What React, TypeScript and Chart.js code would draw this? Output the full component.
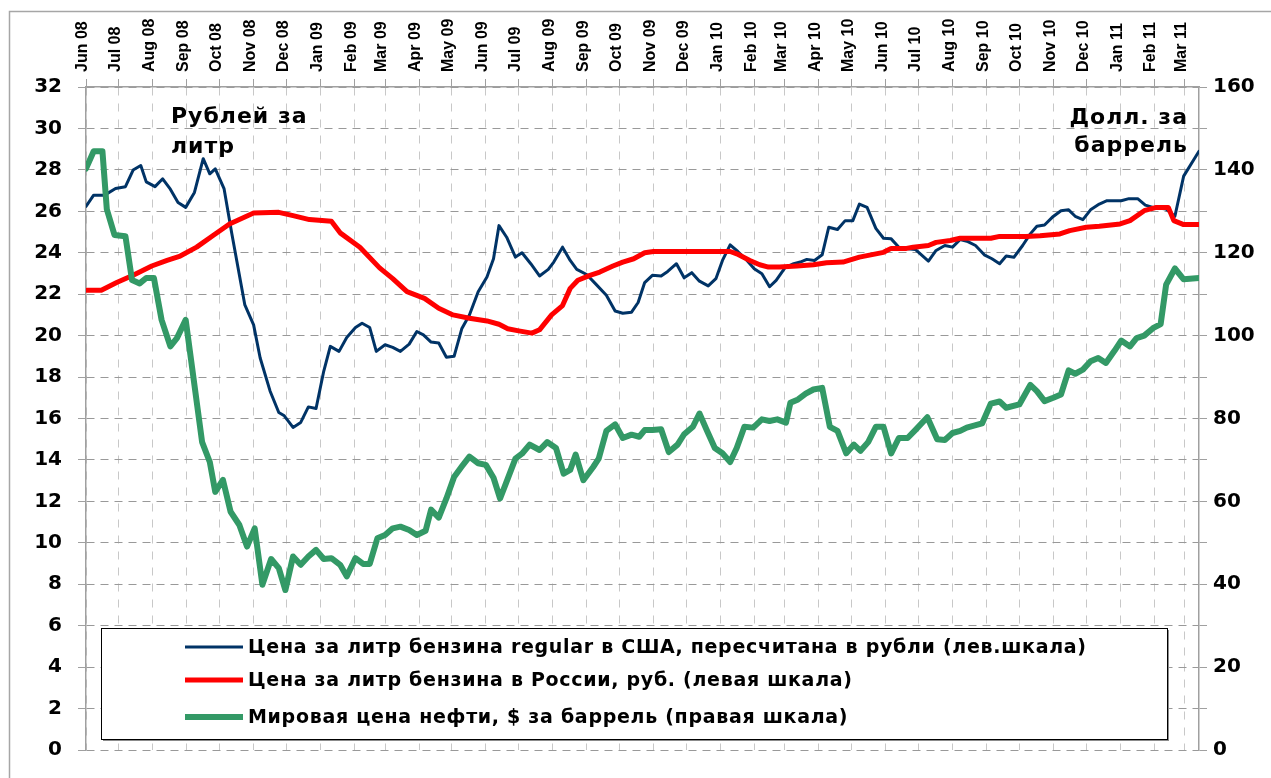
import React, { useEffect, useRef } from 'react';
import { Chart, registerables } from 'chart.js';

Chart.register(...registerables);

// Month tick labels (top axis)
const MONTH_LABELS = [
  'Jun 08', 'Jul 08', 'Aug 08', 'Sep 08', 'Oct 08', 'Nov 08', 'Dec 08',
  'Jan 09', 'Feb 09', 'Mar 09', 'Apr 09', 'May 09', 'Jun 09', 'Jul 09', 'Aug 09', 'Sep 09', 'Oct 09', 'Nov 09', 'Dec 09',
  'Jan 10', 'Feb 10', 'Mar 10', 'Apr 10', 'May 10', 'Jun 10', 'Jul 10', 'Aug 10', 'Sep 10', 'Oct 10', 'Nov 10', 'Dec 10',
  'Jan 11', 'Feb 11', 'Mar 11',
];

// Last date shown on the axis, in days since 1 Jun 2008
const LAST_DAY = 1016;

// US regular gasoline price per litre, converted to roubles (left axis)
const US_DAYS = [
  0, 7, 17, 27, 36, 43, 50, 55, 63, 70, 77, 84, 91, 99, 107, 113, 118, 126, 133, 145, 153, 159, 168, 176, 181, 189,
  196, 203, 210, 217, 223, 231, 238, 246, 252, 259, 265, 273, 280, 287, 295, 302, 308, 315, 322, 329, 336, 343, 350,
  358, 366, 372, 377, 384, 392, 398, 406, 414, 422, 427, 435, 442, 448, 457, 465, 475, 483, 490, 498, 504, 510, 517,
  525, 531, 539, 546, 553, 560, 568, 575, 581, 588, 595, 602, 610, 617, 624, 630, 638, 646, 652, 658, 665, 672, 678,
  686, 693, 700, 706, 713, 721, 728, 735, 742, 750, 757, 769, 776, 784, 791, 798, 805, 812, 820, 827, 834, 840, 847,
  855, 862, 868, 875, 882, 890, 897, 903, 910, 917, 925, 932, 945, 952, 960, 967, 974, 986, 994, 1002, 1016,
];
const US_PRICE = [
  26.24, 26.78, 26.78, 27.1, 27.19, 27.99, 28.21, 27.42, 27.19, 27.57, 27.07, 26.43, 26.19, 26.91, 28.54, 27.81, 28.05,
  27.1, 24.95, 21.48, 20.52, 18.92, 17.33, 16.29, 16.13, 15.57, 15.81, 16.56, 16.48, 18.28, 19.48, 19.24, 19.91, 20.39,
  20.6, 20.39, 19.24, 19.56, 19.43, 19.24, 19.59, 20.2, 20.04, 19.69, 19.64, 18.96, 19.0, 20.33, 21.0, 22.12, 22.83,
  23.71, 25.31, 24.75, 23.79, 24.0, 23.47, 22.88, 23.2, 23.55, 24.27, 23.63, 23.2, 22.95, 22.51, 21.95, 21.19, 21.08,
  21.13, 21.6, 22.56, 22.91, 22.88, 23.1, 23.47, 22.79, 23.04, 22.63, 22.4, 22.75, 23.63, 24.38, 24.06, 23.71, 23.23,
  22.99, 22.36, 22.67, 23.27, 23.47, 23.55, 23.68, 23.63, 23.9, 25.23, 25.12, 25.55, 25.55, 26.35, 26.19, 25.18, 24.7,
  24.67, 24.27, 24.19, 24.16, 23.6, 24.11, 24.35, 24.27, 24.64, 24.54, 24.35, 23.9, 23.71, 23.47, 23.84, 23.78, 24.35,
  24.91, 25.28, 25.34, 25.71, 26.03, 26.07, 25.76, 25.6, 26.07, 26.35, 26.51, 26.51, 26.61, 26.61, 26.3, 26.19, 26.11,
  25.76, 27.7, 28.9,
];

// Russian gasoline price per litre, roubles (left axis)
const RU_DAYS = [
  0, 14, 28, 43, 60, 74, 86, 101, 116, 131, 153, 176, 189, 204, 224, 232, 250, 268, 280, 293, 309, 322, 335, 350, 366,
  377, 385, 395, 407, 414, 425, 435, 442, 449, 460, 469, 481, 490, 500, 510, 518, 588, 594, 606, 615, 623, 633, 649,
  664, 676, 691, 706, 728, 735, 749, 755, 769, 776, 789, 798, 826, 834, 858, 871, 889, 898, 913, 925, 944, 953, 966,
  977, 988, 993, 1002, 1016,
];
const RU_PRICE = [
  22.19, 22.19, 22.56, 22.91, 23.36, 23.63, 23.84, 24.27, 24.83, 25.39, 25.92, 25.95, 25.79, 25.6, 25.52, 24.96, 24.27,
  23.27, 22.75, 22.12, 21.8, 21.32, 21.0, 20.84, 20.71, 20.55, 20.33, 20.23, 20.12, 20.28, 21.0, 21.45, 22.28, 22.67,
  22.91, 23.07, 23.36, 23.55, 23.71, 24.0, 24.06, 24.06, 23.95, 23.63, 23.42, 23.31, 23.31, 23.36, 23.42, 23.52, 23.55,
  23.79, 24.02, 24.21, 24.21, 24.27, 24.35, 24.5, 24.59, 24.7, 24.7, 24.79, 24.79, 24.82, 24.91, 25.07, 25.23, 25.28,
  25.39, 25.55, 26.03, 26.19, 26.19, 25.55, 25.36, 25.36,
];

// World oil price, USD per barrel (right axis)
const OIL_DAYS = [
  0, 7, 15, 19, 26, 36, 42, 49, 55, 62, 69, 77, 83, 91, 106, 113, 118, 125, 132, 140, 147, 154, 161, 169, 176, 182,
  189, 196, 203, 210, 217, 224, 232, 238, 246, 253, 259, 266, 273, 280, 287, 295, 302, 310, 315, 322, 329, 336, 343,
  350, 358, 365, 372, 378, 385, 392, 398, 405, 414, 421, 429, 436, 442, 447, 454, 463, 468, 475, 483, 490, 498, 505,
  510, 517, 525, 532, 540, 546, 554, 560, 567, 574, 581, 588, 594, 601, 609, 617, 624, 631, 639, 643, 650, 657, 664,
  672, 679, 686, 694, 701, 707, 714, 721, 728, 735, 742, 750, 757, 768, 777, 784, 791, 798, 804, 818, 826, 834, 840,
  852, 862, 868, 875, 883, 890, 897, 903, 910, 917, 924, 931, 939, 945, 953, 959, 966, 974, 981, 986, 994, 1002, 1016,
];
const OIL_PRICE = [
  140.3, 144.5, 144.5, 130.5, 124.3, 124.0, 113.4, 112.6, 113.9, 113.9, 103.8, 97.4, 99.4, 103.8, 74.3, 69.5, 62.3,
  65.2, 57.5, 54.3, 49.1, 53.5, 39.9, 46.1, 43.9, 38.6, 46.7, 44.7, 46.7, 48.3, 46.1, 46.3, 44.7, 41.9, 46.3, 44.9,
  44.9, 51.1, 51.9, 53.5, 53.9, 53.1, 51.9, 52.9, 58.0, 56.1, 60.7, 65.9, 68.4, 70.8, 69.2, 68.8, 65.7, 60.7, 65.5,
  70.3, 71.5, 73.7, 72.4, 74.3, 72.9, 66.7, 67.6, 71.3, 65.1, 68.3, 70.3, 77.0, 78.6, 75.3, 76.1, 75.6, 77.2, 77.2,
  77.4, 71.9, 73.7, 76.2, 78.0, 81.2, 77.0, 72.9, 71.6, 69.5, 72.9, 78.0, 77.8, 79.8, 79.4, 79.8, 79.0, 83.8, 84.6,
  86.0, 87.0, 87.4, 78.0, 77.0, 71.6, 73.7, 72.2, 74.3, 78.0, 78.0, 71.6, 75.3, 75.3, 77.2, 80.3, 75.0, 74.8, 76.5,
  77.0, 77.8, 78.8, 83.6, 84.1, 82.6, 83.4, 88.1, 86.6, 84.2, 85.0, 85.8, 91.6, 90.8, 91.8, 93.8, 94.6, 93.4, 96.4,
  98.8, 97.4, 99.4, 100.0, 101.8, 102.8, 112.3, 116.2, 113.6, 113.9,
];

const LEGEND_LABELS = [
  'Цена за литр бензина regular в США, пересчитана в рубли (лев.шкала)',
  'Цена за литр бензина в России, руб. (левая шкала)',
  'Мировая цена нефти, $ за баррель (правая шкала)',
];
const LEFT_UNIT = ['Рублей за', 'литр'];
const RIGHT_UNIT = ['Долл. за', 'баррель'];

const COLORS = ['#003366', '#ff0000', '#339966'];
const WIDTHS = [3, 5, 6];

const START = Date.UTC(2008, 5, 1);
const MONTH_DAYS = MONTH_LABELS.map((_, i) => Math.round((Date.UTC(2008, 5 + i, 1) - START) / 86400000));

const toPoints = (days: number[], vals: number[]) => days.map((d, i) => ({ x: d, y: vals[i] }));

const W = 1271;
const H = 778;

const overlayPlugin = {
  id: 'overlay',
  beforeDraw(chart: any) {
    const ctx = chart.ctx;
    ctx.save();
    ctx.fillStyle = '#ffffff';
    ctx.fillRect(0, 0, chart.width, chart.height);
    ctx.strokeStyle = '#a6a6a6';
    ctx.lineWidth = 1.5;
    ctx.beginPath();
    ctx.moveTo(9.5, chart.height);
    ctx.lineTo(9.5, 11.5);
    ctx.lineTo(chart.width, 11.5);
    ctx.stroke();
    ctx.restore();
  },
  afterDraw(chart: any) {
    const ctx = chart.ctx;
    const xs = chart.scales.x;
    ctx.save();
    // month labels on the top axis, rotated
    ctx.fillStyle = '#000';
    ctx.font = 'bold 16px "Liberation Sans", Arial';
    ctx.textAlign = 'left';
    ctx.textBaseline = 'middle';
    MONTH_DAYS.forEach((d, i) => {
      const px = xs.getPixelForValue(d);
      ctx.save();
      ctx.translate(px - 3, 72);
      ctx.rotate(-Math.PI / 2);
      ctx.fillText(MONTH_LABELS[i], 0, 0);
      ctx.restore();
    });

    // unit annotations
    ctx.fillStyle = '#000';
    ctx.font = 'bold 22px "DejaVu Sans"';
    (ctx as any).letterSpacing = '1px';
    ctx.textBaseline = 'alphabetic';
    ctx.textAlign = 'left';
    ctx.fillText(LEFT_UNIT[0], 171, 123);
    ctx.fillText(LEFT_UNIT[1], 171, 153);
    ctx.textAlign = 'right';
    ctx.fillText(RIGHT_UNIT[0], 1188, 124);
    ctx.fillText(RIGHT_UNIT[1], 1188, 152);

    // legend box
    const bx = 101, by = 628, bw = 1066, bh = 111;
    ctx.fillStyle = '#8c8c8c';
    ctx.fillRect(bx + 2, by + 2, bw, bh);
    ctx.fillStyle = '#ffffff';
    ctx.fillRect(bx, by, bw, bh);
    ctx.strokeStyle = '#000';
    ctx.lineWidth = 1;
    ctx.strokeRect(bx + 0.5, by + 0.5, bw, bh);
    const ys = [647, 680, 717];
    ctx.font = 'bold 19px "DejaVu Sans"';
    (ctx as any).letterSpacing = '0.7px';
    ctx.textAlign = 'left';
    ctx.textBaseline = 'middle';
    LEGEND_LABELS.forEach((t, i) => {
      ctx.strokeStyle = COLORS[i];
      ctx.lineWidth = WIDTHS[i];
      ctx.beginPath();
      ctx.moveTo(185, ys[i]);
      ctx.lineTo(243, ys[i]);
      ctx.stroke();
      ctx.fillStyle = '#000';
      ctx.fillText(t, 248, ys[i] + 1);
    });
    ctx.restore();
  },
};

export default function App() {
  const ref = useRef<HTMLCanvasElement | null>(null);
  useEffect(() => {
    if (!ref.current) return;
    const mk = (days: number[], vals: number[], i: number, axis: string, order: number) => ({
      label: LEGEND_LABELS[i],
      data: toPoints(days, vals),
      borderColor: COLORS[i],
      backgroundColor: COLORS[i],
      borderWidth: WIDTHS[i],
      pointRadius: 0,
      tension: 0,
      borderJoinStyle: 'round' as const,
      borderCapStyle: 'round' as const,
      yAxisID: axis,
      order,
    });
    const chart = new Chart(ref.current, {
      type: 'line',
      data: {
        datasets: [
          mk(US_DAYS, US_PRICE, 0, 'y', 2),
          mk(RU_DAYS, RU_PRICE, 1, 'y', 1),
          mk(OIL_DAYS, OIL_PRICE, 2, 'y1', 0),
        ],
      },
      options: {
        responsive: false,
        animation: false,
        events: [],
        layout: { padding: { left: 0, right: 0, top: 0, bottom: 23 } },
        plugins: { legend: { display: false }, tooltip: { enabled: false } },
        scales: {
          x: {
            type: 'linear',
            position: 'top',
            min: 0,
            max: LAST_DAY,
            afterBuildTicks: (s: any) => {
              s.ticks = MONTH_DAYS.map((v) => ({ value: v }));
            },
            afterFit: (s: any) => {
              s.height = 87;
            },
            ticks: {
              display: false,
              autoSkip: false,
              callback: (_v: any, i: number) => MONTH_LABELS[i],
            },
            grid: {
              color: '#c8c8c8',
              lineWidth: 1,
              tickLength: 8,
              tickColor: '#a0a0a0',
              tickBorderDash: [],
            },
            border: { display: true, color: '#a0a0a0', width: 1.5, dash: [8, 8] },
          },
          y: {
            position: 'left',
            min: 0,
            max: 32,
            afterFit: (s: any) => {
              s.width = 86;
            },
            ticks: {
              stepSize: 2,
              autoSkip: false,
              padding: 16,
              color: '#000',
              font: { family: '"DejaVu Sans"', size: 20, weight: 'bold' },
            },
            grid: {
              color: '#999999',
              lineWidth: 1,
              tickLength: 8,
              tickColor: '#a0a0a0',
              tickBorderDash: [],
            },
            border: { display: true, color: '#a0a0a0', width: 1.5, dash: [8, 6] },
          },
          y1: {
            position: 'right',
            min: 0,
            max: 160,
            afterFit: (s: any) => {
              s.width = W - 1199;
            },
            ticks: {
              stepSize: 10,
              autoSkip: false,
              padding: 6,
              color: '#000',
              font: { family: '"DejaVu Sans"', size: 20, weight: 'bold' },
              callback: (v: any) => (Number(v) % 20 === 0 ? String(v) : ''),
            },
            grid: {
              drawOnChartArea: false,
              tickLength: 8,
              tickColor: '#a0a0a0',
              tickBorderDash: [],
            },
            border: { display: true, color: '#a0a0a0', width: 1.5 },
          },
        },
      },
      plugins: [overlayPlugin],
    } as any);
    return () => chart.destroy();
  }, []);
  return (
    <div style={{ position: 'absolute', left: 0, top: 0, width: W, height: H, background: '#fff' }}>
      <canvas ref={ref} width={W} height={H} style={{ display: 'block', width: W, height: H }} />
    </div>
  );
}
